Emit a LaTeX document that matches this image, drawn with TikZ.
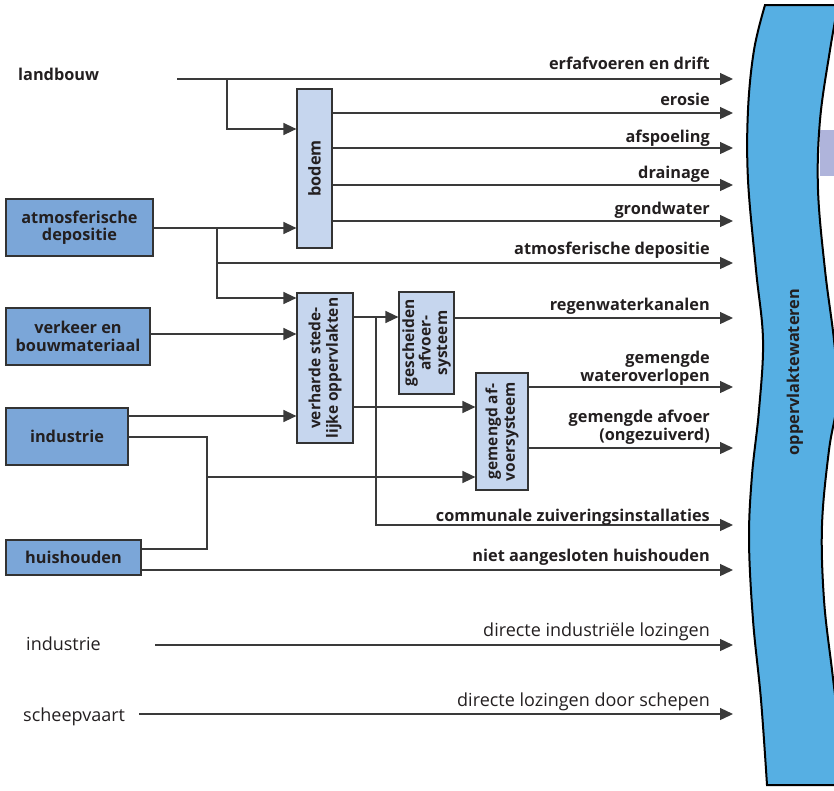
\documentclass[tikz,border=0pt]{standalone}
\usepackage{fontspec}
\setmainfont{Open Sans}
\usetikzlibrary{arrows.meta}
\definecolor{linec}{HTML}{3A3A3A}
\definecolor{boxline}{HTML}{333333}
\definecolor{darkbox}{HTML}{7BA6D8}
\definecolor{lightbox}{HTML}{C6D6EE}
\definecolor{riverc}{HTML}{56AFE3}
\definecolor{lavender}{HTML}{AFB4DB}
\definecolor{txt}{HTML}{231F20}
\begin{document}
\begin{tikzpicture}[x=1pt,y=-1pt,
  font=\fontsize{16.3}{17.5}\selectfont\bfseries, text=txt,
  ln/.style={draw=linec, line width=1.3pt},
  arr/.style={ln, -{Triangle[length=13pt,width=12pt]}},
  srcbox/.style={draw=boxline, line width=1.2pt, fill=darkbox, align=center, inner sep=0},
  procbox/.style={draw=boxline, line width=1.2pt, fill=lightbox, inner sep=0},
  lbl/.style={anchor=base east, align=right, inner sep=0},
  lite/.style={font=\fontsize{18}{20}\selectfont},
  vtxt/.style={rotate=90, align=center, inner sep=0},
  plain/.style={anchor=base west, inner sep=0}]
\useasboundingbox (0,0) rectangle (834,790);

% river
\fill[lavender] (820,130) rectangle (836,176);
\draw[fill=riverc, draw=black, line width=2pt]
  plot[smooth, tension=0.6] coordinates {(765,5) (754,50) (748,110) (748,180) (756,270) (763,340) (759,410) (752,475) (749,540) (753,620) (761,700) (767,785)}
  -- (845,785)
  -- plot[smooth, tension=0.6] coordinates {(845,785) (838,720) (832,670) (824,600) (822,525) (829,450) (838,395) (834,340) (825,270) (818,190) (820,120) (830,50) (838,5)}
  -- cycle;
\node[vtxt] (river) at (795,372) {oppervlaktewateren};

% source boxes
\node[srcbox, minimum width=147pt, minimum height=57pt] (atm) at (79.5,227.5) {atmosferische\\depositie};
\node[srcbox, minimum width=144pt, minimum height=57pt] (verkeer) at (78,336.5) {verkeer en\\bouwmateriaal};
\node[srcbox, minimum width=122pt, minimum height=57pt] (ind) at (67,436.5) {industrie};
\node[srcbox, minimum width=135pt, minimum height=35pt] (huis) at (73.5,557.5) {huishouden};

% plain sources
\node[plain] (landbouw) at (18,80) {landbouw};
\node[plain, lite] (ind2) at (26,650) {industrie};
\node[plain, lite] (scheep) at (23,721) {scheepvaart};

% process boxes
\node[procbox, minimum width=35pt, minimum height=159pt] (bodem) at (314.5,168.5) {};
\node[vtxt] (bodemt) at (bodem) {bodem};
\node[procbox, minimum width=56pt, minimum height=150pt] (verh) at (325,368) {};
\node[vtxt, font=\fontsize{15.5}{17.5}\selectfont\bfseries] (verht) at (verh) {verharde stede-\\lijke oppervlakten};
\node[procbox, minimum width=55pt, minimum height=102pt] (gesch) at (426.5,343) {};
\node[vtxt, font=\fontsize{15.5}{16.5}\selectfont\bfseries] (gescht) at (gesch) {gescheiden\\afvoer-\\systeem};
\node[procbox, minimum width=52pt, minimum height=117pt] (gem) at (502,431.5) {};
\node[vtxt, font=\fontsize{15.5}{17.5}\selectfont\bfseries] (gemt) at (gem) {gemengd af-\\voersysteem};

% end coordinates at the river
\def\ex{733}
\coordinate (e1) at (\ex,79);
\coordinate (e2) at (\ex,113);
\coordinate (e3) at (\ex,148);
\coordinate (e4) at (\ex,185);
\coordinate (e5) at (\ex,221);
\coordinate (e6) at (\ex,263);
\coordinate (e7) at (\ex,318);
\coordinate (e8) at (\ex,387);
\coordinate (e9) at (\ex,448);
\coordinate (e10) at (\ex,525);
\coordinate (e11) at (\ex,570);
\coordinate (e12) at (\ex,645);
\coordinate (e13) at (\ex,714);

% junctions
\coordinate (lbs) at (177,79);
\coordinate (lbj) at (227,79);
\coordinate (atj) at (217,228);
\coordinate (atj2) at (217,263);
\coordinate (ihj) at (207,477);
\coordinate (vj) at (376,317);
\coordinate (ind2s) at (155,645);
\coordinate (sches) at (139,714);

% landbouw
\draw[arr] (lbs) -- (e1);
\draw[arr] (lbj) |- (bodem.west |- 0,129);
% bodem outputs
\draw[arr] (bodem.east |- e2) -- (e2);
\draw[arr] (bodem.east |- e3) -- (e3);
\draw[arr] (bodem.east |- e4) -- (e4);
\draw[arr] (bodem.east |- e5) -- (e5);
% atmosferische depositie
\draw[arr] (atm.east |- atj) -- (bodem.west |- atj);
\draw[arr] (atj) |- (verh.west |- 0,298);
\draw[arr] (atj2) -- (e6);
% verkeer, industrie
\draw[arr] (verkeer.east |- 0,334) -- (verh.west |- 0,334);
\draw[arr] (ind.east |- 0,416) -- (verh.west |- 0,416);
\draw[ln] (ind.east |- 0,437) -| (ihj);
\draw[ln] (huis.east |- 0,549) -| (ihj);
\draw[arr] (ihj) -- (gem.west |- ihj);
\draw[arr] (huis.east |- e11) -- (e11);
% verharde outputs
\draw[arr] (verh.east |- vj) -- (gesch.west |- vj);
\draw[arr] (vj) |- (e10);
\draw[arr] (verh.east |- 0,407) -- (gem.west |- 0,407);
% gescheiden / gemengd outputs
\draw[arr] (gesch.east |- e7) -- (e7);
\draw[arr] (gem.east |- e8) -- (e8);
\draw[arr] (gem.east |- e9) -- (e9);
% direct
\draw[arr] (ind2s) -- (e12);
\draw[arr] (sches) -- (e13);

% labels
\node[lbl] (l1) at (710,69) {erfafvoeren en drift};
\node[lbl] (l2) at (710,105) {erosie};
\node[lbl] (l3) at (710,142) {afspoeling};
\node[lbl] (l4) at (710,178) {drainage};
\node[lbl] (l5) at (710,214) {grondwater};
\node[lbl] (l6) at (710,254) {atmosferische depositie};
\node[lbl] (l7) at (710,310) {regenwaterkanalen};
\node[lbl] (l8) at (710,381) {gemengde\\wateroverlopen};
\node[lbl] (l9) at (710,440) {gemengde afvoer\\(ongezuiverd)};
\node[lbl] (l10) at (710,521) {communale zuiveringsinstallaties};
\node[lbl] (l11) at (710,561) {niet aangesloten huishouden};
\node[lbl, lite] (l12) at (710,636) {directe industriële lozingen};
\node[lbl, lite] (l13) at (710,706) {directe lozingen door schepen};
\end{tikzpicture}
\end{document}
